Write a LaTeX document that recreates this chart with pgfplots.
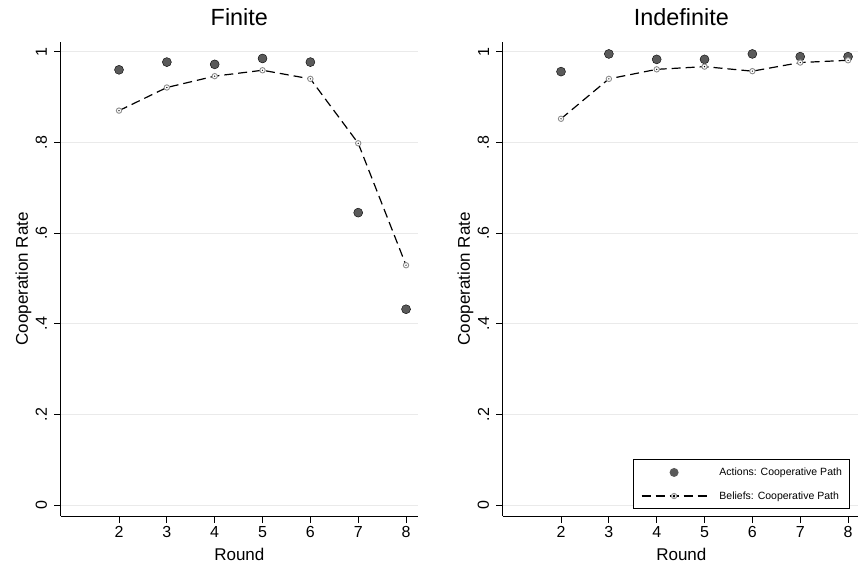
\documentclass[border=0pt]{standalone}
\usepackage{fontspec}
\setmainfont{Liberation Sans}
\usepackage{pgfplots}
\pgfplotsset{compat=1.18}

\definecolor{dotgray}{RGB}{90,90,90}
\definecolor{ringgray}{RGB}{140,140,140}
\definecolor{gridgray}{RGB}{234,234,234}

\pgfdeclareplotmark{ohdot}{%
  \pgfsetdash{}{0pt}%
  \pgfsetlinewidth{0.9pt}%
  \pgfpathcircle{\pgfpointorigin}{\pgfplotmarksize}%
  \pgfsetfillcolor{white}\pgfsetstrokecolor{ringgray}%
  \pgfusepathqfillstroke
  \pgfpathcircle{\pgfpointorigin}{0.7pt}%
  \pgfsetfillcolor{black}\pgfusepathqfill}

\pgfplotsset{
  panel/.style={
    scale only axis, width=357.3pt, height=474.3pt,
    xmin=0.781, xmax=8.25, ymin=-0.024, ymax=1.022,
    axis x line*=bottom, axis y line*=left,
    xtick={2,3,4,5,6,7,8},
    ytick={0,0.2,0.4,0.6,0.8,1},
    yticklabels={0,.2,.4,.6,.8,1},
    /pgf/number format/assume math mode=true,
    tick align=outside, major tick length=6.5pt,
    tick style={black, line width=0.9pt},
    axis line style={black, line width=0.9pt, -},
    ymajorgrids, grid style={gridgray, line width=0.9pt},
    tick label style={font=\fontsize{16}{18}\selectfont},
    xticklabel style={anchor=north, inner sep=0pt, yshift=-4pt},
    yticklabel style={rotate=90, anchor=south, inner sep=0pt, yshift=7pt},
    xlabel={Round},
    label style={font=\fontsize{17}{19}\selectfont},
    xlabel style={at={(axis description cs:0.5,0)}, anchor=base, yshift=-44pt},
    title style={font=\fontsize{23.4}{26}\selectfont, at={(axis description cs:0.5,1)}, anchor=base, yshift=9.7pt},
    clip=false,
  },
  actions/.style={only marks, mark=*, mark size=4.5pt, mark options={draw=none, fill=dotgray}},
  beliefs/.style={black, line width=1.2pt, dash pattern=on 9pt off 5pt, mark=ohdot, mark size=2.7pt},
}

\begin{document}
\begin{tikzpicture}
\path[use as bounding box] (0,0) rectangle (858pt,564pt);
\begin{axis}[panel, at={(60.7pt,48pt)}, anchor=south west, title={Finite}]
\addplot[actions] coordinates {(2,0.960) (3,0.977) (4,0.972) (5,0.985) (6,0.977) (7,0.645) (8,0.432)};
\addplot[beliefs] coordinates {(2,0.870) (3,0.921) (4,0.946) (5,0.959) (6,0.940) (7,0.798) (8,0.529)};
\path (axis description cs:0,0.5) ++(-37.2pt,0pt) node[rotate=90, anchor=center, font=\fontsize{17}{19}\selectfont] {Cooperation Rate};
\end{axis}
\begin{axis}[panel, at={(502.7pt,48pt)}, anchor=south west, title={Indefinite},
  legend style={at={(rel axis cs:1,0)}, anchor=south east, xshift=-10pt, yshift=7pt,
    draw=black, line width=0.9pt, inner xsep=7.7pt, inner ysep=7.5pt,
    font=\fontsize{10.5}{12}\selectfont, cells={anchor=west},
    nodes={inner sep=0pt, text height=8pt, text depth=2pt},
    row sep=13.6pt, /tikz/every odd column/.append style={column sep=12.3pt}}]
\addplot[actions, legend image code/.code={%
  \path[draw=none, fill=none] (0pt,-4.5pt) rectangle (65pt,4.5pt);
  \fill[dotgray, draw=none] (32.5pt,0pt) circle (4.5pt);}]
  coordinates {(2,0.956) (3,0.995) (4,0.983) (5,0.983) (6,0.995) (7,0.989) (8,0.989)};
\addlegendentry{Actions: Cooperative Path}
\addplot[beliefs, legend image code/.code={%
  \draw[black, line width=1.2pt, dash pattern=on 9pt off 5pt] (0pt,0pt) -- (65pt,0pt);
  \draw[solid, ringgray, fill=white, line width=0.9pt] (32.5pt,0pt) circle (2.7pt);
  \fill[black] (32.5pt,0pt) circle (0.7pt);}]
  coordinates {(2,0.852) (3,0.940) (4,0.961) (5,0.967) (6,0.957) (7,0.976) (8,0.981)};
\addlegendentry{Beliefs: Cooperative Path}
\path (axis description cs:0,0.5) ++(-37.2pt,0pt) node[rotate=90, anchor=center, font=\fontsize{17}{19}\selectfont] {Cooperation Rate};
\end{axis}
\end{tikzpicture}
\end{document}
